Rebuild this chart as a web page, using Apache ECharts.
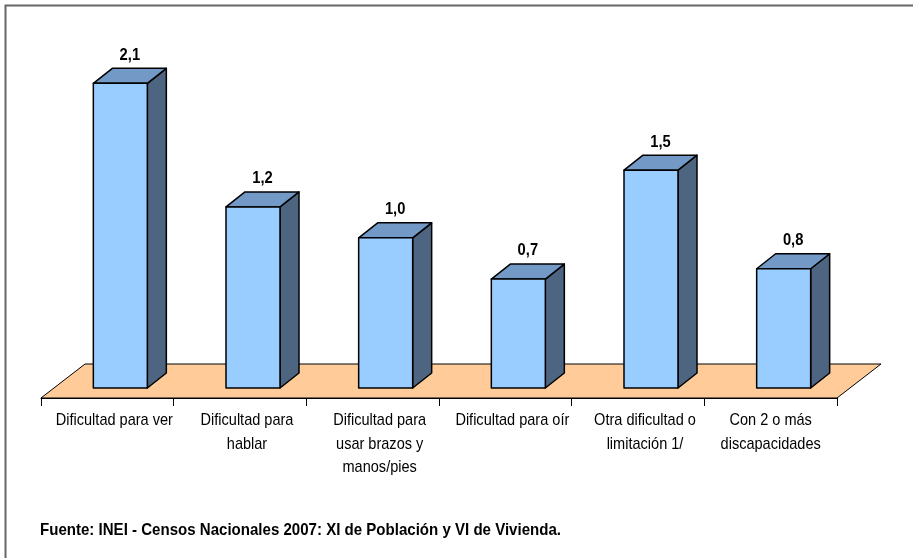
<!DOCTYPE html>
<html>
<head>
<meta charset="utf-8">
<script src="https://cdn.jsdelivr.net/npm/echarts@6/dist/echarts.min.js"></script>
<style>
  html, body { margin: 0; padding: 0; background: #fff; }
  #main { width: 913px; height: 558px; }
</style>
</head>
<body>
<div id="main"></div>
<script>
// data
const categories = [
  'Dificultad para ver',
  'Dificultad para\nhablar',
  'Dificultad para\nusar brazos y\nmanos/pies',
  'Dificultad para oír',
  'Otra dificultad o\nlimitación 1/',
  'Con 2 o más\ndiscapacidades'
];
const values = [2.07, 1.23, 1.02, 0.74, 1.48, 0.81];
const source = 'Fuente: INEI - Censos Nacionales 2007: XI de Población y VI de Vivienda.';

const myChart = echarts.init(document.getElementById('main'));

// fake 3d offsets (pixels)
const FLOOR_DX = 44, FLOOR_DY = -34;
const BAR_DX = 19, BAR_DY = -15;
const BAR_W = 54;
const FONT = 'Liberation Sans';

const fmt = (v) => v.toFixed(1).replace('.', ',');

// squeeze the source line to the width it has in the original
const ctx = document.createElement('canvas').getContext('2d');
ctx.font = 'bold 17px ' + FONT;
const sourceScale = 521 / ctx.measureText(source).width;

function renderFloor(params, api) {
  const cs = params.coordSys;
  const y = cs.y + cs.height;
  return {
    type: 'polygon',
    shape: {
      points: [
        [cs.x, y],
        [cs.x + cs.width, y],
        [cs.x + cs.width + FLOOR_DX, y + FLOOR_DY],
        [cs.x + FLOOR_DX, y + FLOOR_DY]
      ]
    },
    style: { fill: '#FFCC99', stroke: '#000', lineWidth: 1 }
  };
}

function renderLabel(params, api) {
  const idx = api.value(0);
  const p = api.coord([idx, 0]);
  return {
    type: 'text',
    x: p[0] + (idx < 5 ? 7 : 0),
    y: p[1] + 11,
    scaleX: 0.855,
    style: {
      x: 0,
      y: 0,
      text: categories[idx],
      align: 'center',
      verticalAlign: 'top',
      fontFamily: FONT,
      fontSize: 17,
      lineHeight: 23.5,
      fill: '#000'
    }
  };
}

function renderBar(params, api) {
  const idx = api.value(0);
  const top = api.coord([idx, api.value(1)]);
  const base = api.coord([idx, 0]);
  const x0 = top[0] - 14;
  const x1 = x0 + BAR_W;
  const yb = base[1] - 10;
  const yt = top[1] - 10;
  const line = { stroke: '#000', lineWidth: 1.5, lineJoin: 'round' };
  return {
    type: 'group',
    children: [
      {
        type: 'polygon',
        shape: { points: [[x1, yb], [x1 + BAR_DX, yb + BAR_DY], [x1 + BAR_DX, yt + BAR_DY], [x1, yt]] },
        style: Object.assign({ fill: '#4D6580' }, line)
      },
      {
        type: 'polygon',
        shape: { points: [[x0, yt], [x1, yt], [x1 + BAR_DX, yt + BAR_DY], [x0 + BAR_DX, yt + BAR_DY]] },
        style: Object.assign({ fill: '#7399C6' }, line)
      },
      {
        type: 'rect',
        shape: { x: x0, y: yt, width: BAR_W, height: yb - yt },
        style: Object.assign({ fill: '#99CCFF' }, line)
      },
      {
        type: 'text',
        x: x0 + (BAR_W + BAR_DX) / 2,
        y: yt + BAR_DY - 5,
        scaleX: 0.92,
        style: {
          x: 0,
          y: 0,
          text: fmt(api.value(1)),
          align: 'center',
          verticalAlign: 'bottom',
          fontFamily: FONT,
          fontWeight: 'bold',
          fontSize: 16,
          fill: '#000'
        }
      }
    ]
  };
}

const option = {
  animation: false,
  grid: { left: 41, right: 76, top: 30, bottom: 160 },
  xAxis: {
    type: 'category',
    data: categories,
    boundaryGap: true,
    axisLine: { lineStyle: { color: '#000', width: 1 } },
    axisTick: { show: true, length: 8, lineStyle: { color: '#000' } },
    axisLabel: { show: false },
    z: 5
  },
  yAxis: { type: 'value', min: 0, max: 2.5, show: false, splitLine: { show: false } },
  series: [
    { type: 'custom', name: 'floor', renderItem: renderFloor, data: [[0, 0]], z: 1, silent: true },
    {
      type: 'custom',
      name: 'valores',
      renderItem: renderBar,
      data: values.map((v, i) => [i, v]),
      encode: { x: 0, y: 1 },
      z: 3
    },
    {
      type: 'custom',
      name: 'etiquetas',
      renderItem: renderLabel,
      data: categories.map((c, i) => [i, 0]),
      encode: { x: 0, y: 1 },
      silent: true,
      z: 3
    }
  ],
  graphic: [
    {
      type: 'rect',
      shape: { x: 5.5, y: 5.5, width: 1000, height: 1000 },
      style: { fill: 'none', stroke: '#666', lineWidth: 2 },
      z: 0
    },
    {
      type: 'text',
      x: 40,
      y: 530,
      scaleX: sourceScale,
      style: {
        text: source,
        verticalAlign: 'middle',
        fontFamily: FONT,
        fontWeight: 'bold',
        fontSize: 17,
        fill: '#000'
      }
    }
  ]
};

myChart.setOption(option);
</script>
</body>
</html>
